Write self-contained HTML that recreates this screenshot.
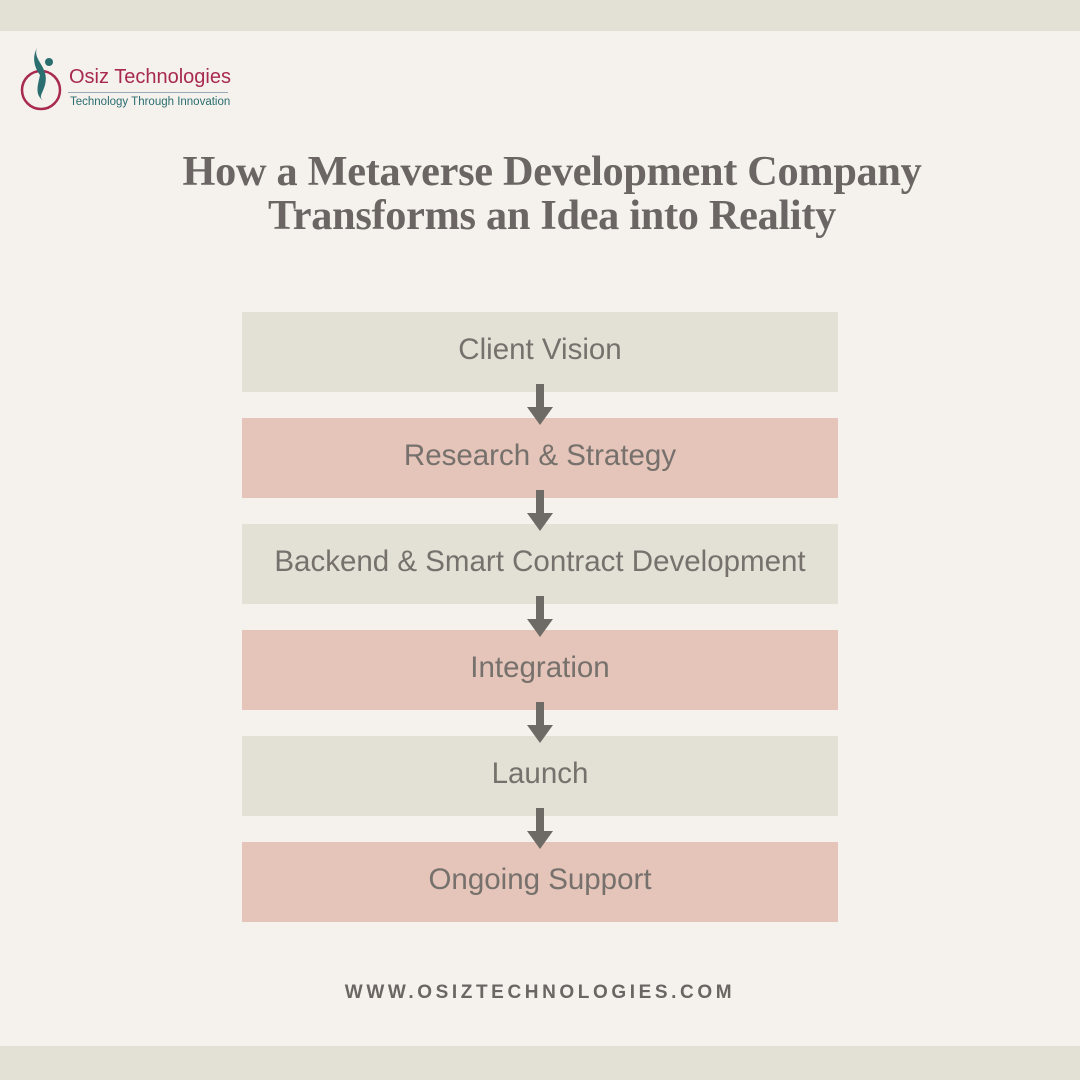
<!DOCTYPE html>
<html><head><style>
body{margin:0;width:1080px;height:1080px;background:#f5f1ed;position:relative;overflow:hidden;font-family:"Liberation Sans",sans-serif}
.band{position:absolute;left:0;width:1080px;background:#e3e0d6}
.box{position:absolute;left:242px;width:596px;height:80px;box-sizing:border-box;padding-bottom:4px;display:flex;align-items:center;justify-content:center;color:#76716c;font-size:29.5px}
.g{background:#e3e0d6}.p{background:#e5c4b9}
.ar{position:absolute;left:526px;width:28px;height:42px}
.t{position:absolute;left:12px;width:1080px;text-align:center;font-family:"Liberation Serif",serif;font-weight:bold;font-size:42.3px;color:#6b6663;letter-spacing:-0.3px}
</style></head><body>
<div class="band" style="top:0;height:31px"></div>
<div class="band" style="top:1046px;height:34px"></div>
<svg style="position:absolute;left:20px;top:45px" width="50" height="70">
<circle cx="21" cy="45" r="19" fill="none" stroke="#a82a4f" stroke-width="2.5"/>
<circle cx="29" cy="17" r="4" fill="#2a6e70"/>
<path d="M17 3 C12 15,30 22,25 40 C22 50,18 52,24 56 C14 50,18 40,20 30 C14 22,12 12,17 3Z" fill="#2a6e70"/>
</svg>
<div style="position:absolute;left:69px;top:66px;font-size:20px;color:#a82a4f">Osiz Technologies</div>
<div style="position:absolute;left:68px;top:92px;width:160px;height:1px;background:#9ab"></div>
<div style="position:absolute;left:70px;top:96px;font-size:11.5px;color:#2a6e70">Technology Through Innovation</div>
<div class="t" style="top:147px">How a Metaverse Development Company</div>
<div class="t" style="top:191px">Transforms an Idea into Reality</div>
<div class="box g" style="top:312px">Client Vision</div>
<div class="box p" style="top:418px">Research &amp; Strategy</div>
<div class="box g" style="top:524px">Backend &amp; Smart Contract Development</div>
<div class="box p" style="top:630px">Integration</div>
<div class="box g" style="top:736px">Launch</div>
<div class="box p" style="top:842px">Ongoing Support</div>
<svg class="ar" style="top:384px" viewBox="0 0 28 42"><path d="M10 0H18V23H27L14 41L1 23H10Z" fill="#6e6a66"/></svg>
<svg class="ar" style="top:490px" viewBox="0 0 28 42"><path d="M10 0H18V23H27L14 41L1 23H10Z" fill="#6e6a66"/></svg>
<svg class="ar" style="top:596px" viewBox="0 0 28 42"><path d="M10 0H18V23H27L14 41L1 23H10Z" fill="#6e6a66"/></svg>
<svg class="ar" style="top:702px" viewBox="0 0 28 42"><path d="M10 0H18V23H27L14 41L1 23H10Z" fill="#6e6a66"/></svg>
<svg class="ar" style="top:808px" viewBox="0 0 28 42"><path d="M10 0H18V23H27L14 41L1 23H10Z" fill="#6e6a66"/></svg>
<div style="position:absolute;left:0;width:1080px;top:982px;text-align:center;font-size:19px;font-weight:bold;letter-spacing:3.6px;color:#6b6663">WWW.OSIZTECHNOLOGIES.COM</div>
</body></html>
